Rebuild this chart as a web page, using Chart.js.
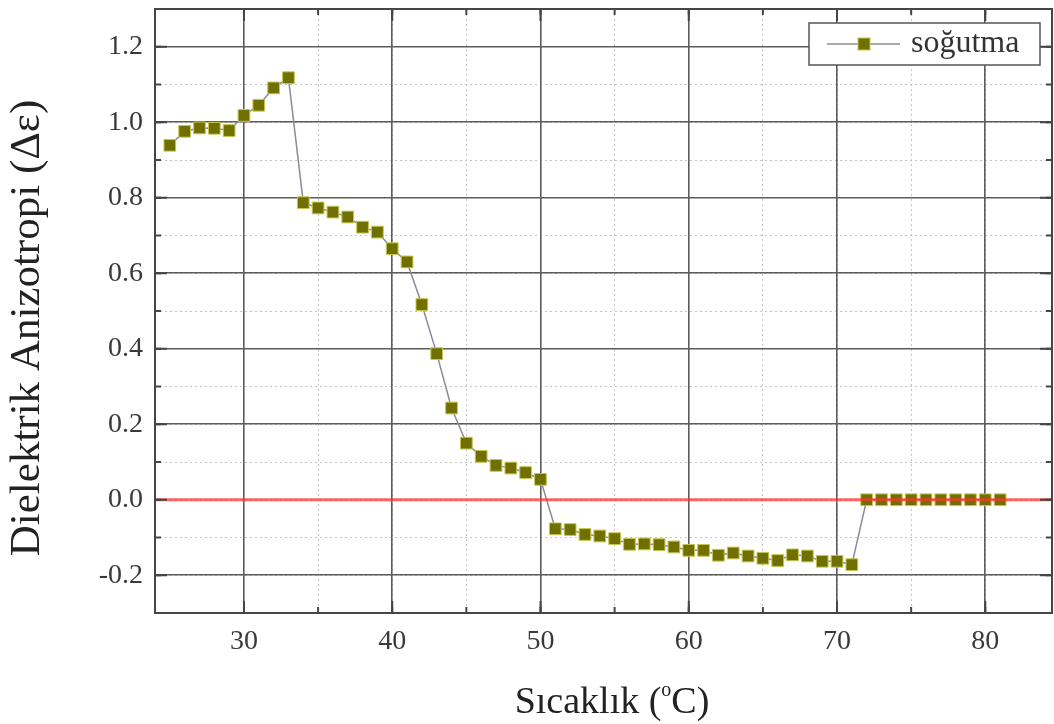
<!DOCTYPE html>
<html>
<head>
<meta charset="utf-8">
<script src="https://cdn.jsdelivr.net/npm/chart.js@4/dist/chart.umd.min.js"></script>
<style>
  html, body { margin: 0; padding: 0; background: #ffffff; }
  #wrap { width: 1054px; height: 724px; }
</style>
</head>
<body>
<div id="wrap"><canvas id="c" width="1054" height="724"></canvas></div>
<script>
// Temperature (°C) and measured dielectric anisotropy while cooling
const temperatures = [
  25, 26, 27, 28, 29, 30, 31, 32, 33, 34,
  35, 36, 37, 38, 39, 40, 41, 42, 43, 44,
  45, 46, 47, 48, 49, 50, 51, 52, 53, 54,
  55, 56, 57, 58, 59, 60, 61, 62, 63, 64,
  65, 66, 67, 68, 69, 70, 71, 72, 73, 74,
  75, 76, 77, 78, 79, 80, 81
];
const anisotropy = [
  0.939, 0.976, 0.985, 0.984, 0.978, 1.018, 1.045, 1.091, 1.118, 0.787,
  0.773, 0.762, 0.749, 0.722, 0.709, 0.665, 0.630, 0.517, 0.387, 0.243,
  0.150, 0.115, 0.091, 0.084, 0.072, 0.054, -0.077, -0.079, -0.092, -0.096,
  -0.103, -0.118, -0.117, -0.119, -0.125, -0.134, -0.134, -0.147, -0.141, -0.149,
  -0.155, -0.161, -0.146, -0.149, -0.163, -0.163, -0.172, 0.000, 0.000, 0.000,
  0.000, 0.000, 0.000, 0.000, 0.000, 0.000, 0.000
];
const xTickValues = [30, 40, 50, 60, 70, 80];
const yTickValues = [-0.2, 0.0, 0.2, 0.4, 0.6, 0.8, 1.0, 1.2];
const seriesLabel = 'soğutma';
const yTitleText = 'Dielektrik Anizotropi (Δε)';
const xTitleParts = ['Sıcaklık (', 'o', 'C)'];

const SERIF = '"Liberation Serif", "Times New Roman", serif';
const MARKER_FILL = '#6f7000';
const MARKER_EDGE = '#c8c650';
const LINE_COLOR = '#8a8a98';
const FRAME = '#464646';

// keep the plot area fixed: no extra room reserved for end labels
const noScalePadding = s => {
  s.paddingTop = 0; s.paddingBottom = 0; s.paddingLeft = 0; s.paddingRight = 0;
};

// Frame, inward tick marks, zero reference line, titles and legend
const decorations = {
  id: 'decorations',
  afterDatasetsDraw(chart) {
    const { ctx, chartArea: a, scales } = chart;
    const y0 = scales.y.getPixelForValue(0);
    ctx.save();
    ctx.strokeStyle = 'rgba(255, 50, 50, 0.75)';
    ctx.lineWidth = 3;
    ctx.beginPath();
    ctx.moveTo(a.left, y0);
    ctx.lineTo(a.right, y0);
    ctx.stroke();
    ctx.restore();
  },
  afterDraw(chart) {
    const { ctx, chartArea: a, scales } = chart;
    const xs = scales.x, ys = scales.y, xm = scales.xMinor, ym = scales.yMinor;
    ctx.save();
    // inward ticks
    ctx.strokeStyle = FRAME;
    ctx.lineWidth = 2;
    const vTick = (px, len) => {
      ctx.beginPath();
      ctx.moveTo(px, a.bottom); ctx.lineTo(px, a.bottom - len);
      ctx.moveTo(px, a.top); ctx.lineTo(px, a.top + len);
      ctx.stroke();
    };
    const hTick = (py, len) => {
      ctx.beginPath();
      ctx.moveTo(a.left, py); ctx.lineTo(a.left + len, py);
      ctx.moveTo(a.right, py); ctx.lineTo(a.right - len, py);
      ctx.stroke();
    };
    xm.ticks.forEach(t => vTick(xm.getPixelForValue(t.value), 6));
    xs.ticks.forEach(t => vTick(xs.getPixelForValue(t.value), 12));
    ym.ticks.forEach(t => hTick(ym.getPixelForValue(t.value), 6));
    ys.ticks.forEach(t => hTick(ys.getPixelForValue(t.value), 12));
    // frame
    ctx.lineWidth = 2;
    ctx.strokeRect(a.left, a.top, a.right - a.left, a.bottom - a.top);

    // y title
    ctx.fillStyle = '#222222';
    ctx.font = '43px ' + SERIF;
    ctx.textAlign = 'center';
    ctx.textBaseline = 'middle';
    ctx.save();
    ctx.translate(28, 328);
    ctx.rotate(-Math.PI / 2);
    ctx.fillText(yTitleText, 0, 0);
    ctx.restore();

    // x title with superscript
    const big = '38px ' + SERIF, small = '20px ' + SERIF;
    ctx.textAlign = 'left';
    ctx.textBaseline = 'alphabetic';
    ctx.font = big;
    const w0 = ctx.measureText(xTitleParts[0]).width;
    const w2 = ctx.measureText(xTitleParts[2]).width;
    ctx.font = small;
    const w1 = ctx.measureText(xTitleParts[1]).width;
    const total = w0 + w1 + w2;
    let tx = 612 - total / 2;
    const base = 713;
    ctx.font = big;
    ctx.fillText(xTitleParts[0], tx, base);
    tx += w0;
    ctx.font = small;
    ctx.fillText(xTitleParts[1], tx, base - 17);
    tx += w1;
    ctx.font = big;
    ctx.fillText(xTitleParts[2], tx, base);

    // legend
    const ds = chart.data.datasets[0];
    const bx = 809, by = 23, bw = 231, bh = 42;
    ctx.fillStyle = '#ffffff';
    ctx.fillRect(bx, by, bw, bh);
    ctx.strokeStyle = '#555555';
    ctx.lineWidth = 1.5;
    ctx.strokeRect(bx, by, bw, bh);
    const ly = by + bh / 2;
    ctx.strokeStyle = '#555555';
    ctx.lineWidth = 1.2;
    ctx.beginPath();
    ctx.moveTo(827, ly); ctx.lineTo(900, ly);
    ctx.stroke();
    ctx.fillStyle = ds.pointBackgroundColor;
    ctx.fillRect(858, ly - 6, 12, 12);
    ctx.strokeStyle = ds.pointBorderColor;
    ctx.lineWidth = 1;
    ctx.strokeRect(858, ly - 6, 12, 12);
    ctx.fillStyle = '#333333';
    ctx.font = '32px ' + SERIF;
    ctx.textAlign = 'left';
    ctx.textBaseline = 'middle';
    ctx.fillText(ds.label, 911, ly);
    ctx.restore();
  }
};

const tickFont = { family: SERIF, size: 28 };

new Chart(document.getElementById('c'), {
  type: 'line',
  data: {
    datasets: [{
      label: seriesLabel,
      data: temperatures.map((t, i) => ({ x: t, y: anisotropy[i] })),
      borderColor: LINE_COLOR,
      borderWidth: 1.5,
      pointStyle: 'rect',
      pointRadius: 8.3,
      pointBackgroundColor: MARKER_FILL,
      pointBorderColor: MARKER_EDGE,
      pointBorderWidth: 1,
      tension: 0,
      fill: false
    }]
  },
  options: {
    responsive: false,
    devicePixelRatio: 1,
    animation: false,
    layout: { autoPadding: false, padding: { top: 9, right: 2, left: 0, bottom: 0 } },
    plugins: { legend: { display: false }, tooltip: { enabled: false } },
    scales: {
      xMinor: {
        type: 'linear', position: 'bottom', min: 24, max: 84.5,
        ticks: { display: false, stepSize: 5 },
        grid: { color: '#c4c4c4', lineWidth: 1, drawTicks: false },
        border: { display: false, dash: [2, 3] },
        afterFit: s => { s.height = 0; noScalePadding(s); }
      },
      yMinor: {
        type: 'linear', position: 'left', min: -0.3, max: 1.3,
        ticks: { display: false, stepSize: 0.1 },
        grid: { color: '#c4c4c4', lineWidth: 1, drawTicks: false },
        border: { display: false, dash: [2, 3] },
        afterFit: s => { s.width = 0; noScalePadding(s); }
      },
      x: {
        type: 'linear', position: 'bottom', min: 24, max: 84.5,
        afterBuildTicks: s => { s.ticks = xTickValues.map(v => ({ value: v })); },
        afterFit: s => { s.height = 111; noScalePadding(s); },
        grid: { color: '#5c5c5c', lineWidth: 1.6, drawTicks: false },
        border: { display: true, color: FRAME, width: 2 },
        ticks: { font: tickFont, color: '#3a3a3a', padding: 12, maxRotation: 0,
                 callback: v => String(v) }
      },
      y: {
        type: 'linear', position: 'left', min: -0.3, max: 1.3,
        afterBuildTicks: s => { s.ticks = yTickValues.map(v => ({ value: v })); },
        afterFit: s => { s.width = 155; noScalePadding(s); },
        grid: {
          color: c => (c.tick && Math.abs(c.tick.value) < 1e-9) ? 'rgba(0,0,0,0)' : '#5c5c5c',
          lineWidth: 1.6, drawTicks: false
        },
        border: { display: true, color: FRAME, width: 2 },
        ticks: { font: tickFont, color: '#3a3a3a', padding: 12,
                 callback: v => (Math.abs(v) < 1e-9 ? 0 : v).toFixed(1) }
      }
    }
  },
  plugins: [decorations]
});
</script>
</body>
</html>
